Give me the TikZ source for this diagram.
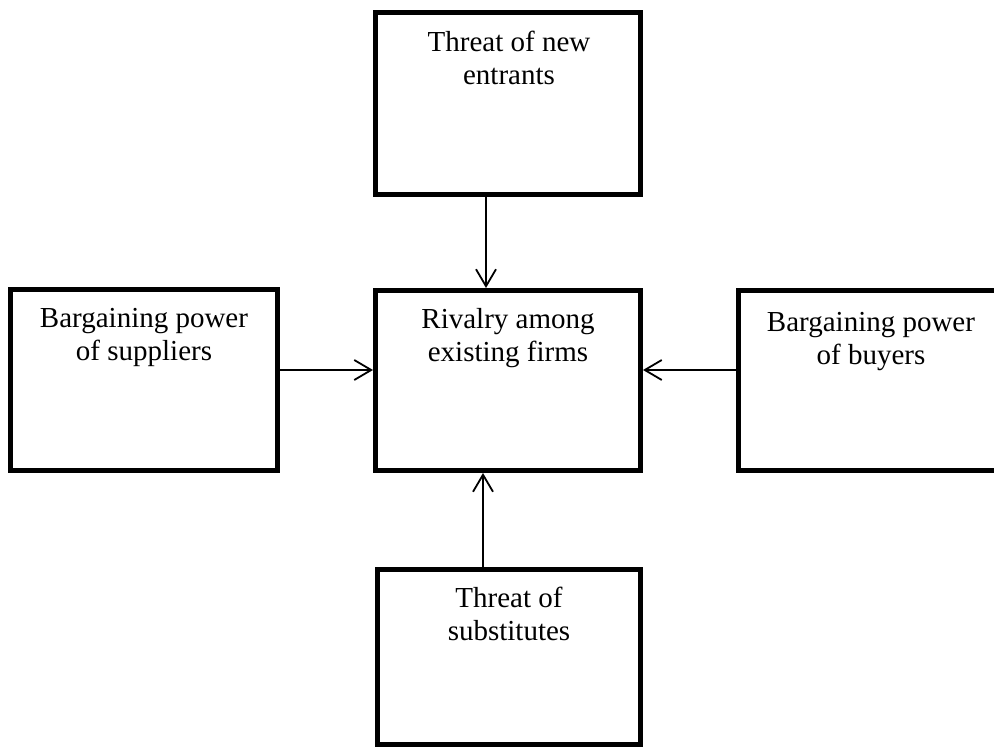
\documentclass[tikz,border=0pt]{standalone}
\usepackage{fontspec}
\setmainfont{Liberation Serif}
\usetikzlibrary{arrows.meta}
\tikzset{
  box/.style={draw=black, line width=5pt, rectangle, inner sep=0pt, fill=white},
  lbl/.style={anchor=base, inner sep=0pt, font=\fontsize{29}{33}\selectfont},
  arr/.style={line width=1.8pt, -{Straight Barb[length=17pt,width=20pt]}}
}
\newcommand{\twolines}[2]{\begin{tabular}[t]{@{}c@{}}#1\\#2\end{tabular}}
\begin{document}
\begin{tikzpicture}[x=1pt,y=-1pt]
\clip (0,0) rectangle (994,749);
\fill[white] (0,0) rectangle (994,749);
% boxes
\node[box, minimum width=265pt, minimum height=182pt] (top) at (508,103.5) {};
\node[box, minimum width=267pt, minimum height=181pt] (left) at (144,380) {};
\node[box, minimum width=265pt, minimum height=180pt] (center) at (508,380.5) {};
\node[box, minimum width=265pt, minimum height=180pt] (right) at (871,380.5) {};
\node[box, minimum width=263pt, minimum height=175pt] (bottom) at (509,657) {};
% labels
\node[lbl] (toptxt) at (509,52) {\twolines{Threat of new}{entrants}};
\node[lbl] (lefttxt) at (144,327) {\twolines{Bargaining power}{of suppliers}};
\node[lbl] (centertxt) at (508,328) {\twolines{Rivalry among}{existing firms}};
\node[lbl] (righttxt) at (871,331) {\twolines{Bargaining power}{of buyers}};
\node[lbl] (bottomtxt) at (509,607) {\twolines{Threat of}{substitutes}};
% connector guides
\coordinate (vx1) at (486,0);
\coordinate (vx2) at (483,0);
\coordinate (hy) at (0,370);
% connectors
\draw[arr] (top.south -| vx1) -- (center.north -| vx1);
\draw[arr] (left.east |- hy) -- (center.west |- hy);
\draw[arr] (right.west |- hy) -- (center.east |- hy);
\draw[arr] (bottom.north -| vx2) -- (center.south -| vx2);
\end{tikzpicture}
\end{document}
